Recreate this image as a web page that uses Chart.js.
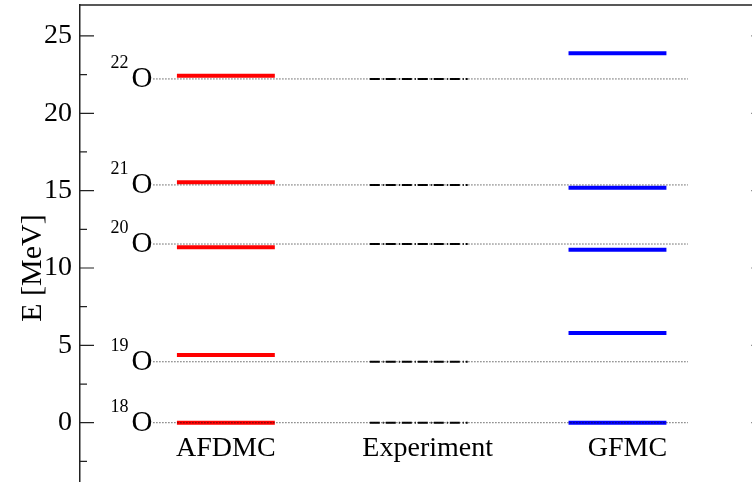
<!DOCTYPE html>
<html>
<head>
<meta charset="utf-8">
<script src="https://cdn.jsdelivr.net/npm/chart.js@4"></script>
<style>
  html, body { margin: 0; padding: 0; overflow: hidden; background: #fff; }
  #wrap { width: 770px; height: 500px; }
</style>
</head>
<body>
<div id="wrap"><canvas id="myChart" width="770" height="500"></canvas></div>
<script>
// oxygen isotopes, energies relative to 18O (MeV)
var massNumbers = [18, 19, 20, 21, 22];
var methods = ['AFDMC', 'Experiment', 'GFMC'];
var afdmc = [0, 4.38, 11.34, 15.54, 22.43];
var experiment = [0, 3.94, 11.55, 15.37, 22.22];
var gfmc = [0, 5.80, 11.18, 15.19, 23.88];
var yTicks = [0, 5, 10, 15, 20, 25];
var yMinor = [-2.5, 2.5, 7.5, 12.5, 17.5, 22.5];

var serif = "'Liberation Serif', 'DejaVu Serif', serif";
var halfWidth = 0.25;
var labelShift = [0, 6, 10];

function levelSets(values, pos, color, width, dash) {
  return values.map(function (v) {
    return {
      data: [{x: pos - halfWidth, y: v}, {x: pos + halfWidth, y: v}],
      borderColor: color,
      borderWidth: width,
      borderDash: dash,
      pointRadius: 0,
      showLine: true,
      fill: false,
      order: 1
    };
  });
}

var datasets = [];
// dotted reference lines at experimental values
experiment.forEach(function (v) {
  datasets.push({
    data: [{x: 0.63, y: v}, {x: 3.36, y: v}],
    borderColor: '#111',
    borderWidth: 1,
    borderDash: [1, 2],
    pointRadius: 0,
    showLine: true,
    order: 0
  });
});
datasets = datasets.concat(levelSets(afdmc, 1, '#ff0000', 4, []));
datasets = datasets.concat(levelSets(experiment, 1.985, '#000000', 2, [10, 3, 1, 2]));
datasets = datasets.concat(levelSets(gfmc, 3, '#0000ff', 4, []));

var framePlugin = {
  id: 'frame',
  afterDraw: function (chart) {
    var ctx = chart.ctx, a = chart.chartArea;
    var ys = chart.scales.y, xs = chart.scales.x;
    ctx.save();
    ctx.strokeStyle = '#222';
    ctx.lineWidth = 1.5;
    ctx.beginPath();
    ctx.moveTo(a.left, a.top); ctx.lineTo(a.right, a.top);
    ctx.moveTo(a.right, a.top); ctx.lineTo(a.right, a.bottom);
    ctx.stroke();
    ctx.lineWidth = 1.2;
    ctx.beginPath();
    yTicks.forEach(function (t) {
      var p = ys.getPixelForValue(t);
      ctx.moveTo(a.left, p); ctx.lineTo(a.left + 14, p);
      ctx.moveTo(a.right, p); ctx.lineTo(a.right - 14, p);
    });
    yMinor.forEach(function (t) {
      var p = ys.getPixelForValue(t);
      ctx.moveTo(a.left, p); ctx.lineTo(a.left + 7, p);
      ctx.moveTo(a.right, p); ctx.lineTo(a.right - 7, p);
    });
    ctx.stroke();

    ctx.fillStyle = '#000';
    ctx.textBaseline = 'alphabetic';

    // axis title
    ctx.save();
    ctx.translate(33, ys.getPixelForValue(10));
    ctx.rotate(-Math.PI / 2);
    ctx.textAlign = 'center';
    ctx.textBaseline = 'middle';
    ctx.font = '30px ' + serif;
    ctx.fillText('E [MeV]', 0, 0);
    ctx.restore();

    // method names
    ctx.font = '28px ' + serif;
    ctx.textAlign = 'center';
    var base = ys.getPixelForValue(0) + 33;
    methods.forEach(function (m, i) {
      ctx.fillText(m, xs.getPixelForValue(i + 1) + labelShift[i], base);
    });

    // nuclide labels
    var xr = xs.getPixelForValue(0.63) - 1;
    experiment.forEach(function (v, i) {
      var py = ys.getPixelForValue(v);
      ctx.textAlign = 'right';
      ctx.font = '29px ' + serif;
      ctx.fillText('O', xr, py + 8);
      var w = ctx.measureText('O').width;
      ctx.font = '18px ' + serif;
      ctx.fillText(String(massNumbers[i]), xr - w - 3, py - 11);
    });
    ctx.restore();
  }
};

var chart = new Chart(document.getElementById('myChart'), {
  type: 'scatter',
  data: { datasets: datasets },
  options: {
    responsive: false,
    animation: false,
    layout: { padding: { left: 0, top: 5, right: 4.5, bottom: 15.4 } },
    plugins: { legend: { display: false }, tooltip: { enabled: false } },
    scales: {
      x: { type: 'linear', display: false, min: 0.255, max: 3.756 },
      y: {
        type: 'linear',
        min: -4,
        max: 27,
        afterFit: function (s) { s.width = 80; s.paddingTop = 0; s.paddingBottom = 0; },
        afterBuildTicks: function (s) { s.ticks = yTicks.map(function (v) { return {value: v}; }); },
        grid: { drawOnChartArea: false, drawTicks: false },
        border: { display: true, color: '#222', width: 1.5 },
        ticks: { color: '#000', padding: 8, font: { family: serif, size: 28 } }
      }
    }
  },
  plugins: [framePlugin]
});
</script>
</body>
</html>
